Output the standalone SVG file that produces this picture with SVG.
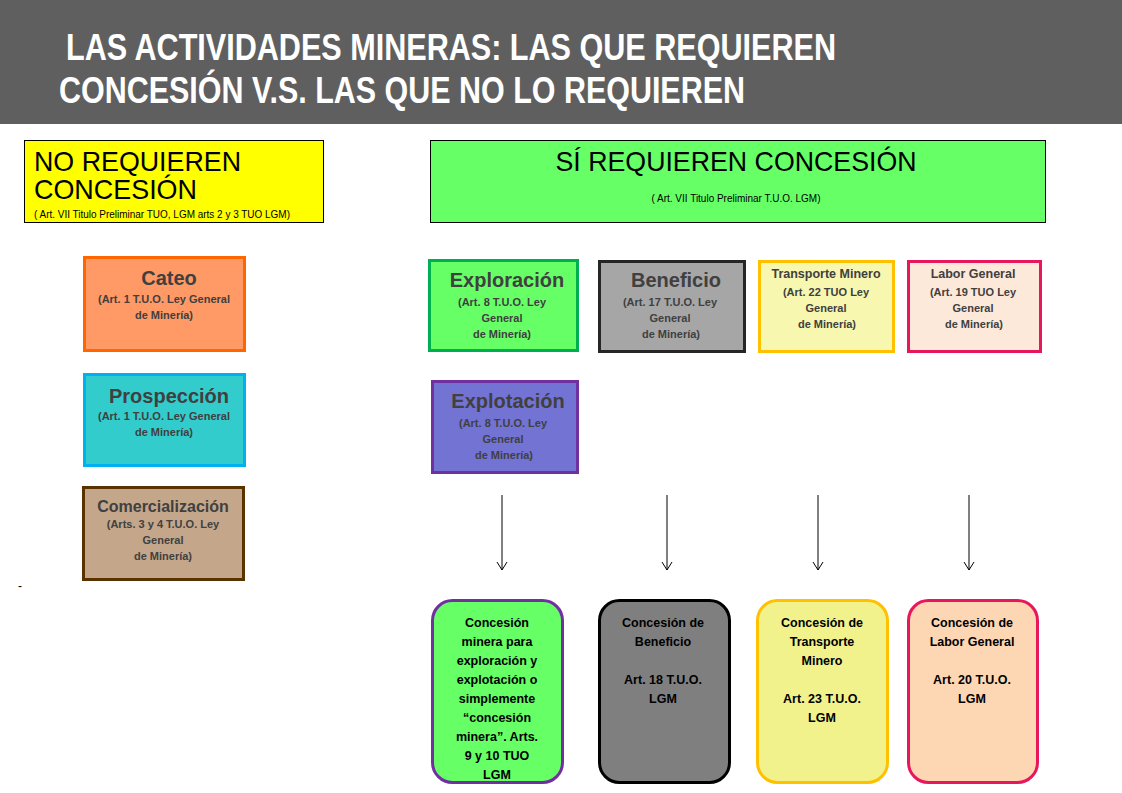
<svg xmlns="http://www.w3.org/2000/svg" width="1122" height="793" viewBox="0 0 1122 793">
<defs>
<style>
text{font-family:"Liberation Sans",Arial,sans-serif}
.t{font-weight:bold;fill:#404040;text-anchor:middle}
.s{font-weight:bold;fill:#404040;text-anchor:middle;font-size:11px}
.c{font-weight:bold;fill:#000;text-anchor:middle;font-size:12.5px}
.h{font-weight:bold;fill:#fff;font-size:36px}
.conn line{stroke:#000;stroke-width:1}
</style>
<marker id="ar" viewBox="0 0 12 12" refX="11" refY="6" markerWidth="12" markerHeight="12" markerUnits="userSpaceOnUse" orient="auto">
<path d="M3,1 L11,6 L3,11" fill="none" stroke="#000" stroke-width="1"/>
</marker>
</defs>
<rect x="0" y="0" width="1122" height="793" fill="#fff"/>
<g id="header">
<rect x="0" y="0" width="1122" height="124" fill="#5f5f5f"/>
<text class="h" x="66" y="60" textLength="770" lengthAdjust="spacingAndGlyphs">LAS ACTIVIDADES MINERAS: LAS QUE REQUIEREN</text>
<text class="h" x="59" y="103" textLength="686" lengthAdjust="spacingAndGlyphs">CONCESIÓN V.S. LAS QUE NO LO REQUIEREN</text>
</g>
<g id="no-requieren">
<rect x="24.5" y="140.5" width="299" height="82" fill="#ffff00" stroke="#000" stroke-width="1"/>
<text x="34" y="171" font-size="28" fill="#000" textLength="207" lengthAdjust="spacingAndGlyphs">NO REQUIEREN</text>
<text x="34" y="199" font-size="28" fill="#000" textLength="163" lengthAdjust="spacingAndGlyphs">CONCESIÓN</text>
<text x="34" y="218" font-size="10" fill="#000" textLength="256" lengthAdjust="spacingAndGlyphs">( Art. VII Titulo  Preliminar  TUO, LGM arts  2 y 3  TUO LGM)</text>
</g>
<g id="si-requieren">
<rect x="430.5" y="140.5" width="615" height="82" fill="#66ff66" stroke="#000" stroke-width="1"/>
<text x="736" y="171" font-size="28" fill="#000" text-anchor="middle" textLength="361" lengthAdjust="spacingAndGlyphs">SÍ REQUIEREN CONCESIÓN</text>
<text x="736" y="202" font-size="10" fill="#000" text-anchor="middle" textLength="169" lengthAdjust="spacingAndGlyphs">( Art. VII Titulo  Preliminar  T.U.O. LGM)</text>
</g>
<g id="cateo">
<rect x="84.5" y="257.5" width="160" height="93" fill="#ff9966" stroke="#ff6600" stroke-width="3"/>
<text class="t" x="169" y="285" font-size="20">Cateo</text>
<text class="s" x="164" y="303">(Art. 1 T.U.O. Ley General</text>
<text class="s" x="164" y="319">de Minería)</text>
</g>
<g id="prospeccion">
<rect x="84.5" y="374.5" width="160" height="91" fill="#33cccc" stroke="#00b0f0" stroke-width="3"/>
<text class="t" x="169" y="403" font-size="20">Prospección</text>
<text class="s" x="164" y="420">(Art. 1 T.U.O. Ley General</text>
<text class="s" x="164" y="436">de Minería)</text>
</g>
<g id="comercializacion">
<rect x="83.5" y="487.5" width="160" height="92" fill="#c4a68a" stroke="#5a3200" stroke-width="3"/>
<text class="t" x="163" y="512" font-size="16">Comercialización</text>
<text class="s" x="163" y="528">(Arts. 3 y 4 T.U.O. Ley</text>
<text class="s" x="163" y="544">General</text>
<text class="s" x="163" y="560">de Minería)</text>
</g>
<g id="exploracion">
<rect x="429.5" y="260.5" width="148" height="90" fill="#66ff66" stroke="#00b050" stroke-width="3"/>
<text class="t" x="507" y="287" font-size="20">Exploración</text>
<text class="s" x="502" y="306">(Art. 8 T.U.O. Ley</text>
<text class="s" x="502" y="322">General</text>
<text class="s" x="502" y="338">de Minería)</text>
</g>
<g id="beneficio">
<rect x="599.5" y="261.5" width="145" height="90" fill="#a6a6a6" stroke="#262626" stroke-width="3"/>
<text class="t" x="676" y="287" font-size="20" fill="#505050">Beneficio</text>
<text class="s" x="670" y="306" fill="#505050">(Art. 17 T.U.O. Ley</text>
<text class="s" x="670" y="322" fill="#505050">General</text>
<text class="s" x="671" y="338" fill="#505050">de Minería)</text>
</g>
<g id="transporte">
<rect x="759.5" y="261.5" width="134" height="90" fill="#f7f7b0" stroke="#ffc000" stroke-width="3"/>
<text class="t" x="826" y="278" font-size="12.5">Transporte Minero</text>
<text class="s" x="826" y="296">(Art. 22 TUO Ley</text>
<text class="s" x="826" y="312">General</text>
<text class="s" x="827" y="328">de Minería)</text>
</g>
<g id="labor">
<rect x="908.5" y="261.5" width="132" height="90" fill="#fde9d9" stroke="#e8175d" stroke-width="3"/>
<text class="t" x="973" y="278" font-size="12.5">Labor General</text>
<text class="s" x="973" y="296">(Art. 19 TUO Ley</text>
<text class="s" x="973" y="312">General</text>
<text class="s" x="974" y="328">de Minería)</text>
</g>
<g id="explotacion">
<rect x="432.5" y="381.5" width="145" height="91" fill="#7373d4" stroke="#7030a0" stroke-width="3"/>
<text class="t" x="508" y="408" font-size="20" fill="#404060">Explotación</text>
<text class="s" x="503" y="427" fill="#404060">(Art. 8 T.U.O. Ley</text>
<text class="s" x="503" y="443" fill="#404060">General</text>
<text class="s" x="504" y="459" fill="#404060">de Minería)</text>
</g>
<g id="connectors" class="conn">
<line x1="502" y1="495" x2="502" y2="570" marker-end="url(#ar)"/>
<line x1="667" y1="495" x2="667" y2="570" marker-end="url(#ar)"/>
<line x1="818" y1="495" x2="818" y2="570" marker-end="url(#ar)"/>
<line x1="969" y1="495" x2="969" y2="570" marker-end="url(#ar)"/>
</g>
<g id="concesion-minera">
<rect x="432.5" y="600.5" width="130" height="182" rx="20" fill="#66ff66" stroke="#7030a0" stroke-width="3"/>
<text class="c" x="497" y="627">Concesión</text>
<text class="c" x="497" y="646">minera para</text>
<text class="c" x="497" y="665">exploración y</text>
<text class="c" x="497" y="684">explotación o</text>
<text class="c" x="497" y="703">simplemente</text>
<text class="c" x="497" y="722">“concesión</text>
<text class="c" x="497" y="741">minera”. Arts.</text>
<text class="c" x="497" y="760">9 y 10 TUO</text>
<text class="c" x="497" y="779">LGM</text>
</g>
<g id="concesion-beneficio">
<rect x="599.5" y="600.5" width="130" height="182" rx="20" fill="#7f7f7f" stroke="#000" stroke-width="3"/>
<text class="c" x="663" y="627">Concesión de</text>
<text class="c" x="663" y="646">Beneficio</text>
<text class="c" x="663" y="684">Art. 18 T.U.O.</text>
<text class="c" x="663" y="703">LGM</text>
</g>
<g id="concesion-transporte">
<rect x="757.5" y="600.5" width="130" height="182" rx="20" fill="#f2f28c" stroke="#ffc000" stroke-width="3"/>
<text class="c" x="822" y="627">Concesión de</text>
<text class="c" x="822" y="646">Transporte</text>
<text class="c" x="822" y="665">Minero</text>
<text class="c" x="822" y="703">Art. 23 T.U.O.</text>
<text class="c" x="822" y="722">LGM</text>
</g>
<g id="concesion-labor">
<rect x="908.5" y="600.5" width="129" height="182" rx="20" fill="#fdd7b4" stroke="#e8175d" stroke-width="3"/>
<text class="c" x="972" y="627">Concesión de</text>
<text class="c" x="972" y="646">Labor General</text>
<text class="c" x="972" y="684">Art. 20 T.U.O.</text>
<text class="c" x="972" y="703">LGM</text>
</g>
<text x="18" y="590" font-size="12" fill="#000">-</text>
</svg>
